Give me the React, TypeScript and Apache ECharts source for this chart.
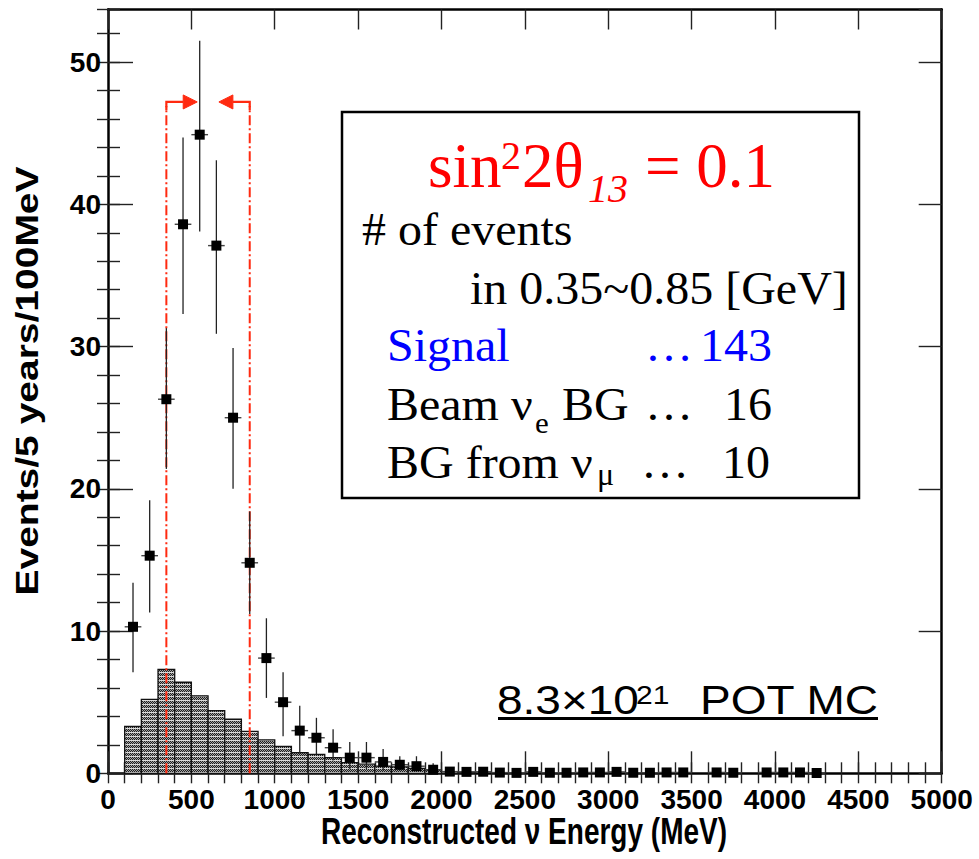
import React, { useEffect, useRef } from "react";
import * as echarts from "echarts";

// ---------- data ----------
const xRange = [0, 5000];
const yRange = [0, 53.7];

// background histogram (100 MeV bins, lower edges)
const bgBinStart = [100, 200, 300, 400, 500, 600, 700, 800, 900, 1000, 1100, 1200, 1300, 1400, 1500, 1600, 1700, 1800, 1900, 2000, 2100];
const bgBinWidth = 100;
const bgValues = [3.3, 5.2, 7.3, 6.4, 5.45, 4.4, 3.8, 2.95, 2.35, 1.9, 1.45, 1.33, 1.1, 0.75, 0.65, 0.5, 0.45, 0.35, 0.25, 0.12, 0.08];

// signal + background points
const sigEnergy = [150, 250, 350, 450, 550, 650, 750, 850, 950, 1050, 1150, 1250, 1350, 1450, 1550, 1650, 1750, 1850, 1950, 2050, 2150, 2250, 2350, 2450, 2550, 2650, 2750, 2850, 2950, 3050, 3150, 3250, 3350, 3450, 3650, 3750, 3950, 4050, 4150, 4250];
const sigValue = [10.3, 15.3, 26.3, 38.6, 44.9, 37.1, 25.0, 14.8, 8.1, 5.0, 3.0, 2.5, 1.8, 1.1, 1.1, 0.8, 0.6, 0.5, 0.25, 0.12, 0.1, 0.11, 0.05, 0.03, 0.1, 0.04, 0.04, 0.06, 0.06, 0.1, 0.04, 0.04, 0.06, 0.06, 0.06, 0.04, 0.06, 0.06, 0.06, 0.02];
const sigErrLow = [7.1, 11.3, 21.4, 32.3, 38.1, 30.9, 20.0, 11.2, 5.3, 2.6, 1.4, 1.3, 0.9, 0.3, 0.3, 0.2, 0.2, 0.1, 0.0, 0.12, 0.1, 0.11, 0.05, 0.03, 0.1, 0.04, 0.04, 0.06, 0.06, 0.1, 0.04, 0.04, 0.06, 0.06, 0.06, 0.04, 0.06, 0.06, 0.06, 0.02];
const sigErrHigh = [13.4, 19.2, 31.3, 44.7, 51.5, 43.1, 29.9, 18.4, 10.9, 7.1, 4.75, 3.9, 3.1, 2.2, 2.2, 1.7, 1.2, 1.2, 0.7, 0.12, 0.1, 0.11, 0.05, 0.03, 0.1, 0.04, 0.04, 0.06, 0.06, 0.1, 0.04, 0.04, 0.06, 0.06, 0.06, 0.04, 0.06, 0.06, 0.06, 0.02];
const sigHalfBin = 50;

// energy window cuts (MeV) with arrow tips
const cutEdges = [350, 850];
const cutArrowTips = [535, 665];
const cutArrowLevel = 47.2;

// ---------- helpers ----------
function makePattern(): string {
  const c = document.createElement("canvas");
  c.width = 4;
  c.height = 4;
  const ctx = c.getContext("2d")!;
  ctx.fillStyle = "#a4a4a4";
  ctx.fillRect(0, 0, 4, 4);
  ctx.fillStyle = "#dadada";
  ctx.fillRect(0, 0, 4, 1);
  ctx.fillStyle = "#1e1e1e";
  ctx.fillRect(0, 1, 1, 1);
  ctx.fillRect(2, 1, 1, 1);
  ctx.fillRect(1, 2, 1, 1);
  ctx.fillRect(3, 2, 1, 1);
  ctx.fillRect(0, 3, 1, 1);
  ctx.fillRect(2, 3, 1, 1);
  return c.toDataURL();
}

const SERIF = "'Liberation Serif', 'Times New Roman', serif";
const SANS = "'Liberation Sans', Arial, sans-serif";

function txt(
  x: number,
  baseline: number,
  text: string,
  fs: number,
  opts: { family?: string; color?: string; sy?: number; align?: string; italic?: boolean; bold?: boolean; k?: number } = {}
) {
  const sy = opts.sy ?? 1;
  const k = opts.k ?? 0.3;
  return {
    type: "text",
    x,
    y: baseline - k * fs * sy,
    scaleY: sy,
    z: 100,
    style: {
      text,
      fontSize: fs,
      fontFamily: opts.family ?? SERIF,
      fontStyle: opts.italic ? "italic" : "normal",
      fontWeight: opts.bold ? "bold" : "normal",
      fill: opts.color ?? "#000",
      align: opts.align ?? "left",
      textAlign: opts.align ?? "left",
      verticalAlign: "middle",
      textVerticalAlign: "middle",
    },
  };
}

export default function App() {
  const ref = useRef<HTMLDivElement>(null);

  useEffect(() => {
    if (!ref.current) return;
    const chart = echarts.init(ref.current, null, { renderer: "svg" });
    const patternFill = { image: makePattern(), repeat: "repeat", imageWidth: 4, imageHeight: 4 };

    const bgData = bgBinStart.map((s, i) => [s, s + bgBinWidth, bgValues[i]]);
    const errData = sigEnergy.map((e, i) => [e, sigErrLow[i], sigErrHigh[i], sigValue[i]]);
    const ptData = sigEnergy.map((e, i) => [e, sigValue[i]]);
    const cutData = cutEdges.map((c, i) => [c, cutArrowTips[i], cutArrowLevel]);

    const tickLabel = {
      fontFamily: SANS,
      fontWeight: "bold",
      fontSize: 28,
      color: "#000",
      formatter: (v: number) => String(Math.round(v)),
    };

    const baseX = { type: "value", min: xRange[0], max: xRange[1], splitLine: { show: false } };
    const baseY = { type: "value", min: yRange[0], max: yRange[1], splitLine: { show: false } };
    const frameLine = { show: true, onZero: false, lineStyle: { color: "#000", width: 2.5 } };
    const tick = (len: number) => ({ show: true, inside: true, length: len, lineStyle: { color: "#222", width: 1.4 } });

    const option: any = {
      animation: false,
      grid: { left: 108, right: 37.3, top: 9.5, bottom: 85.7, containLabel: false },
      xAxis: [
        {
          ...baseX,
          position: "bottom",
          interval: 500,
          axisLine: frameLine,
          axisTick: tick(22),
          axisLabel: { ...tickLabel, margin: 12, showMaxLabel: true, showMinLabel: true, hideOverlap: false },
        },
        { ...baseX, position: "bottom", interval: 100, axisLine: { show: false }, axisTick: tick(11), axisLabel: { show: false } },
        { ...baseX, position: "top", interval: 500, axisLine: frameLine, axisTick: tick(20), axisLabel: { show: false } },
        { ...baseX, position: "top", interval: 100, axisLine: { show: false }, axisTick: tick(10), axisLabel: { show: false } },
      ],
      yAxis: [
        {
          ...baseY,
          position: "left",
          interval: 10,
          axisLine: frameLine,
          axisTick: tick(25),
          axisLabel: { ...tickLabel, margin: 7, showMaxLabel: false },
        },
        { ...baseY, position: "left", interval: 2, axisLine: { show: false }, axisTick: tick(12), axisLabel: { show: false } },
        { ...baseY, position: "right", interval: 10, axisLine: frameLine, axisTick: tick(23), axisLabel: { show: false } },
        { ...baseY, position: "right", interval: 2, axisLine: { show: false }, axisTick: tick(11), axisLabel: { show: false } },
      ],
      series: [
        {
          type: "custom",
          name: "BG",
          xAxisIndex: 0,
          yAxisIndex: 0,
          z: 1,
          data: bgData,
          encode: { x: [0, 1], y: 2 },
          renderItem: (_p: any, api: any) => {
            const a = api.coord([api.value(0), api.value(2)]);
            const b = api.coord([api.value(1), 0]);
            return {
              type: "rect",
              shape: { x: a[0], y: a[1], width: b[0] - a[0], height: b[1] - a[1] },
              style: { fill: patternFill, stroke: "#111", lineWidth: 1.3 },
            };
          },
        },
        {
          type: "custom",
          name: "cuts",
          xAxisIndex: 0,
          yAxisIndex: 0,
          z: 2,
          data: cutData,
          encode: { x: [0, 1], y: 2 },
          renderItem: (_p: any, api: any) => {
            const edge = api.value(0);
            const tip = api.value(1);
            const lvl = api.value(2);
            const base = api.coord([edge, 0]);
            const top = api.coord([edge, lvl]);
            const tp = api.coord([tip, lvl]);
            const dir = tp[0] > top[0] ? 1 : -1;
            const headLen = 14;
            const headHalf = 7;
            const red = "#ff2a10";
            return {
              type: "group",
              children: [
                {
                  type: "line",
                  shape: { x1: base[0], y1: base[1], x2: top[0], y2: top[1] + 4 },
                  style: { stroke: red, lineWidth: 2, lineDash: [10, 3, 2, 3] },
                },
                {
                  type: "polyline",
                  shape: { points: [[top[0], top[1] + 8], [top[0], top[1]], [tp[0] - dir * headLen, tp[1]]] },
                  style: { stroke: red, lineWidth: 2.2, fill: "none" },
                },
                {
                  type: "polygon",
                  shape: { points: [[tp[0], tp[1]], [tp[0] - dir * headLen, tp[1] - headHalf], [tp[0] - dir * headLen, tp[1] + headHalf]] },
                  style: { fill: red, stroke: red, lineWidth: 1 },
                },
              ],
            };
          },
        },
        {
          type: "custom",
          name: "errors",
          xAxisIndex: 0,
          yAxisIndex: 0,
          z: 3,
          data: errData,
          encode: { x: 0, y: [1, 2] },
          renderItem: (_p: any, api: any) => {
            const e = api.value(0);
            const lo = api.value(1);
            const hi = api.value(2);
            const v = api.value(3);
            const t = api.coord([e, hi]);
            const b = api.coord([e, lo]);
            const l = api.coord([e - sigHalfBin, v]);
            const r = api.coord([e + sigHalfBin, v]);
            const children: any[] = [
              { type: "line", shape: { x1: l[0], y1: l[1], x2: r[0], y2: r[1] }, style: { stroke: "#444", lineWidth: 1.4 } },
            ];
            if (hi > lo) {
              children.push({ type: "line", shape: { x1: t[0], y1: t[1], x2: b[0], y2: b[1] }, style: { stroke: "#222", lineWidth: 1.3 } });
            }
            return { type: "group", children };
          },
        },
        {
          type: "scatter",
          name: "signal",
          xAxisIndex: 0,
          yAxisIndex: 0,
          z: 4,
          symbol: "rect",
          symbolSize: 10,
          itemStyle: { color: "#000", opacity: 1 },
          data: ptData,
        },
      ],
      graphic: [
        { type: "rect", z: 90, shape: { x: 342, y: 112, width: 517, height: 386 }, style: { fill: "#fff", stroke: "#000", lineWidth: 2.5 } },
        // title
        txt(428, 185, "sin", 63, { color: "#ff0000" }),
        txt(501, 167, "2", 40, { color: "#ff0000" }),
        txt(522, 185, "2θ", 63, { color: "#ff0000" }),
        txt(588, 200, "13", 40, { color: "#ff0000", italic: true }),
        txt(645, 185, "= 0.1", 63, { color: "#ff0000" }),
        // body
        txt(362, 243, "# of events", 48, { sy: 0.96 }),
        txt(470, 301.7, "in 0.35~0.85 [GeV]", 48, { sy: 0.96 }),
        txt(387, 359.3, "Signal", 48, { sy: 0.96, color: "#0000ff" }),
        txt(645, 359.3, "…", 48, { sy: 0.96, color: "#0000ff" }),
        txt(772, 359.3, "143", 48, { sy: 0.96, color: "#0000ff", align: "right" }),
        txt(387, 418, "Beam ν", 48, { sy: 0.96 }),
        txt(535, 431.7, "e", 31, { sy: 0.96 }),
        txt(562, 418, "BG", 48, { sy: 0.96 }),
        txt(645, 418, "…", 48, { sy: 0.96 }),
        txt(772, 418, "16", 48, { sy: 0.96, align: "right" }),
        txt(387, 476, "BG from ν", 48, { sy: 0.96 }),
        txt(597, 484, "μ", 32, { sy: 0.96 }),
        txt(641, 476, "…", 48, { sy: 0.96 }),
        txt(770, 476, "10", 48, { sy: 0.96, align: "right" }),
        // POT label
        txt(497, 713, "8.3×10", 46, { family: SANS, sy: 0.89, k: 0.31 }),
        txt(636, 702.7, "21", 30, { family: SANS, sy: 0.89, k: 0.31 }),
        txt(700, 713, "POT MC", 46, { family: SANS, sy: 0.89, k: 0.31 }),
        { type: "line", z: 100, shape: { x1: 498, y1: 718.5, x2: 878, y2: 718.5 }, style: { stroke: "#000", lineWidth: 3 } },
        // axis titles
        txt(524, 843, "Reconstructed ν Energy (MeV)", 28, { family: SANS, bold: true, sy: 1.3, align: "center", k: 0.31 }),
        {
          type: "text",
          x: 27,
          y: 381,
          rotation: Math.PI / 2,
          scaleY: 0.8,
          z: 100,
          style: {
            text: "Events/5 years/100MeV",
            fontSize: 39,
            fontFamily: SANS,
            fontWeight: "bold",
            fill: "#000",
            align: "center",
            textAlign: "center",
            verticalAlign: "middle",
            textVerticalAlign: "middle",
          },
        },
      ],
    };

    chart.setOption(option);
    return () => chart.dispose();
  }, []);

  return <div ref={ref} style={{ position: "absolute", left: 0, top: 0, width: 979, height: 859, background: "#fff" }} />;
}
